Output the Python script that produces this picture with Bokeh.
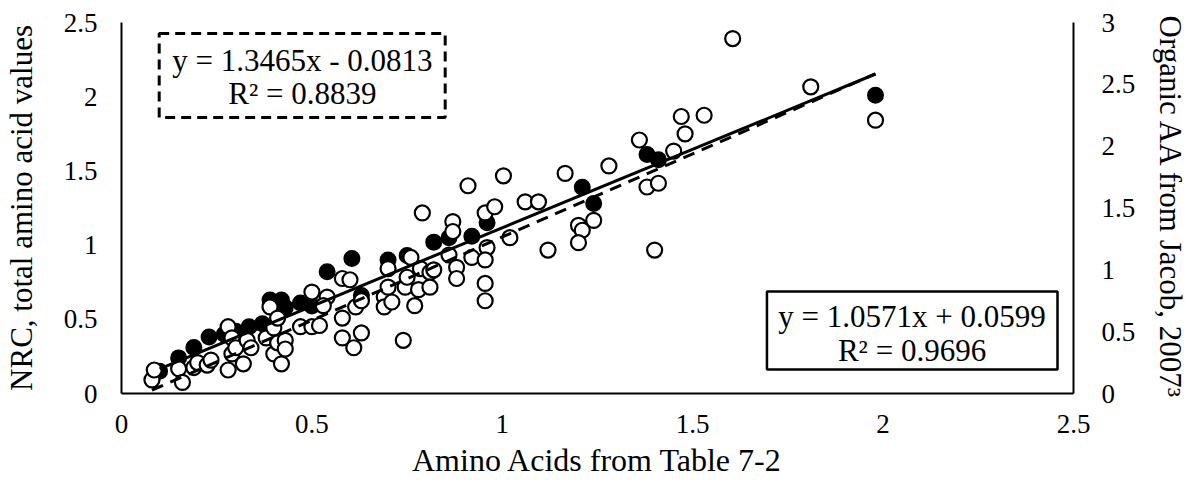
from bokeh.plotting import figure
from bokeh.models import Range1d, LinearAxis, FixedTicker, NumeralTickFormatter, BoxAnnotation, Label
from bokeh.embed import file_html
from bokeh.resources import INLINE

# ---- data ----
nrc_x = [0.10, 0.15, 0.19, 0.23, 0.27, 0.30, 0.335, 0.37, 0.39, 0.42, 0.43, 0.47, 0.50,
         0.54, 0.605, 0.63, 0.70, 0.75, 0.82, 0.86, 0.92, 0.96, 1.21, 1.24, 1.38, 1.41, 1.98]
nrc_y = [0.15, 0.24, 0.31, 0.38, 0.40, 0.42, 0.45, 0.47, 0.63, 0.63, 0.58, 0.61, 0.59,
         0.82, 0.91, 0.66, 0.90, 0.93, 1.02, 1.05, 1.06, 1.15, 1.39, 1.28, 1.61, 1.575, 2.01]

org_x = [0.08, 0.086, 0.15, 0.16, 0.19, 0.20, 0.225, 0.235, 0.28, 0.28, 0.29, 0.29, 0.30, 0.32,
         0.33, 0.34, 0.38, 0.39, 0.40, 0.40, 0.41, 0.41, 0.42, 0.43, 0.43, 0.47, 0.50, 0.52,
         0.50, 0.54, 0.53, 0.58, 0.58, 0.58, 0.60, 0.61, 0.615, 0.63, 0.63, 0.69, 0.70, 0.70,
         0.69, 0.71, 0.74, 0.745, 0.75, 0.76, 0.77, 0.78, 0.785, 0.79, 0.81, 0.81, 0.82, 0.86,
         0.87, 0.87, 0.88, 0.88, 0.91, 0.92, 0.955, 0.96, 0.955, 0.955, 0.955, 0.98, 1.003,
         1.02, 1.06, 1.095, 1.12, 1.165, 1.20, 1.21, 1.20, 1.24, 1.28, 1.36, 1.38, 1.40, 1.41,
         1.45, 1.47, 1.48, 1.53, 1.605, 1.81, 1.98]
org_y = [0.11, 0.19, 0.20, 0.09, 0.21, 0.25, 0.23, 0.27, 0.19, 0.54, 0.45, 0.32, 0.37, 0.24,
         0.43, 0.37, 0.45, 0.70, 0.53, 0.32, 0.61, 0.41, 0.24, 0.43, 0.36, 0.54, 0.54, 0.55,
         0.82, 0.78, 0.71, 0.61, 0.45, 0.93, 0.92, 0.37, 0.70, 0.49, 0.75, 0.78, 0.86, 1.01,
         0.70, 0.74, 0.43, 0.86, 0.94, 1.10, 0.71, 0.84, 1.01, 1.46, 0.98, 0.86, 1.00, 1.12,
         1.39, 1.31, 1.02, 0.93, 1.68, 1.10, 1.46, 1.18, 1.08, 0.89, 0.75, 1.51, 1.76,
         1.26, 1.55, 1.55, 1.16, 1.78, 1.36, 1.32, 1.22, 1.40, 1.84, 2.05, 1.67, 1.16, 1.70,
         1.96, 2.24, 2.10, 2.25, 2.87, 2.48, 2.21]

x_ticks = [0, 0.5, 1, 1.5, 2, 2.5]
left_ticks = [0, 0.5, 1, 1.5, 2, 2.5]
right_ticks = [0, 0.5, 1, 1.5, 2, 2.5, 3]

nrc_fit = [1.0571, 0.0599]
org_fit = [1.3465, -0.0813]
nrc_eq = ["y = 1.0571x + 0.0599", "R² = 0.9696"]
org_eq = ["y = 1.3465x - 0.0813", "R² = 0.8839"]

x_title = "Amino Acids from Table 7-2"
left_title = "NRC, total amino acid values"
right_title = "Organic AA from Jacob, 2007³"

FONT = "Liberation Serif"

p = figure(width=1191, height=489, output_backend="svg", toolbar_location=None,
           x_range=Range1d(0, 2.5), y_range=Range1d(0, 2.5),
           min_border_left=117, min_border_right=118, min_border_top=22, min_border_bottom=96,
           x_axis_location=None, y_axis_location=None)
p.extra_y_ranges = {"right": Range1d(0, 3)}
p.outline_line_color = None
p.grid.visible = False
p.background_fill_color = "white"
p.border_fill_color = "white"


def style(ax, ticks, std, lstd, title_size="31px"):
    ax.ticker = FixedTicker(ticks=ticks)
    ax.formatter = NumeralTickFormatter(format="0.[0]")
    ax.major_tick_line_color = None
    ax.minor_tick_line_color = None
    ax.major_tick_out = 0
    ax.major_tick_in = 0
    ax.axis_line_color = "black"
    ax.axis_line_width = 2
    ax.major_label_text_font = FONT
    ax.major_label_text_font_size = "27px"
    ax.major_label_text_color = "black"
    ax.major_label_standoff = std
    ax.axis_label_text_font = FONT
    ax.axis_label_text_font_size = title_size
    ax.axis_label_text_font_style = "normal"
    ax.axis_label_text_color = "black"
    ax.axis_label_standoff = lstd


xa = LinearAxis()
style(xa, x_ticks, 21, 6, "32px")
xa.axis_label = x_title
p.add_layout(xa, "below")

ya = LinearAxis()
style(ya, left_ticks, 24, 22)
ya.axis_label = left_title
p.add_layout(ya, "left")

ra = LinearAxis(y_range_name="right")
style(ra, right_ticks, 28, 15)
ra.axis_label = right_title
p.add_layout(ra, "right")

# series
p.scatter(nrc_x, nrc_y, marker="circle", size=15, fill_color="black", line_color="black", line_width=2)
p.scatter(org_x, org_y, marker="circle", size=15, fill_color="white", line_color="black", line_width=2.2,
          y_range_name="right")

# trend lines
nx = [min(nrc_x), max(nrc_x)]
p.line(nx, [nrc_fit[0] * v + nrc_fit[1] for v in nx], line_color="black", line_width=3)
ox = [min(org_x), max(org_x)]
p.line(ox, [org_fit[0] * v + org_fit[1] for v in ox], line_color="black", line_width=3,
       line_dash="12 8", y_range_name="right")

# equation boxes (positions in data units of the left axis)
p.add_layout(BoxAnnotation(left=0.099, right=0.850, top=2.426, bottom=1.860, fill_color=None,
                           fill_alpha=0, line_color="black", line_alpha=1.0, line_width=3,
                           line_dash="10 6"))
p.add_layout(Label(x=0.475, y=2.244, text=org_eq[0], text_align="center", text_baseline="middle",
                   text_font=FONT, text_font_size="31px", text_color="black"))
p.add_layout(Label(x=0.475, y=2.022, text=org_eq[1], text_align="center", text_baseline="middle",
                   text_font=FONT, text_font_size="31px", text_color="black"))

p.add_layout(BoxAnnotation(left=1.695, right=2.458, top=0.687, bottom=0.162, fill_color=None,
                           fill_alpha=0, line_color="black", line_alpha=1.0, line_width=2.5))
p.add_layout(Label(x=2.076, y=0.519, text=nrc_eq[0], text_align="center", text_baseline="middle",
                   text_font=FONT, text_font_size="31px", text_color="black"))
p.add_layout(Label(x=2.076, y=0.290, text=nrc_eq[1], text_align="center", text_baseline="middle",
                   text_font=FONT, text_font_size="31px", text_color="black"))

open("out.html", "w").write(file_html(p, INLINE))
